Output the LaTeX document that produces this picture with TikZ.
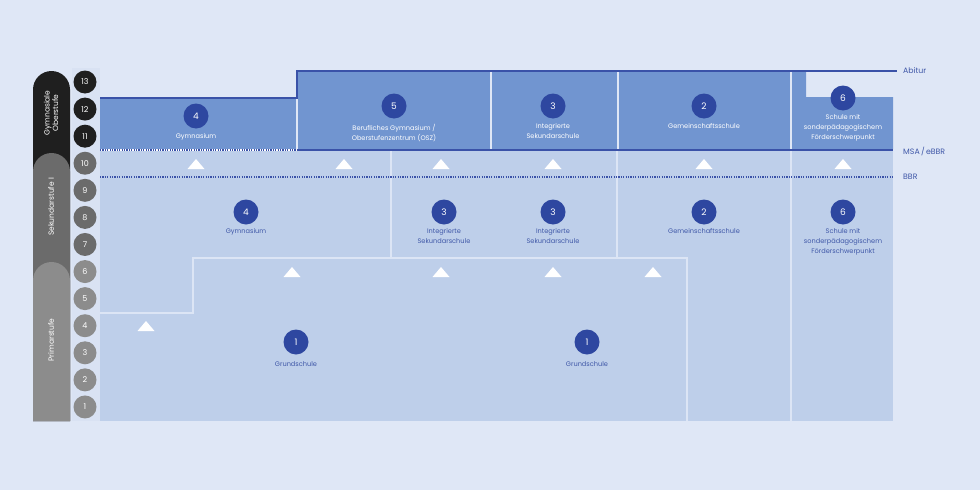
\documentclass[tikz,border=0pt]{standalone}
\usepackage{fontspec}
\setmainfont{Poppins}
\usetikzlibrary{calc}
\definecolor{pagebg}{HTML}{DFE7F6}
\definecolor{stripc}{HTML}{D9E2F3}
\definecolor{lowc}{HTML}{BECFEA}
\definecolor{upc}{HTML}{7195D0}
\definecolor{mainc}{HTML}{2E47A0}
\definecolor{linec}{HTML}{3A52A8}
\definecolor{txtc}{HTML}{4058A8}
\definecolor{sepc}{HTML}{DCE5F5}
\definecolor{blackc}{HTML}{1F1F1F}
\definecolor{darkg}{HTML}{6B6B6B}
\definecolor{lightg}{HTML}{8C8C8C}
\tikzset{
  num/.style={circle,fill=mainc,text=white,minimum size=25pt,inner sep=0pt,font=\fontsize{9}{9}\selectfont},
  grade/.style={circle,minimum size=23pt,inner sep=0pt,text=white,font=\fontsize{8}{8}\selectfont},
  lab/.style={align=center,inner sep=0pt,anchor=north,font=\fontsize{6.6}{10}\selectfont},
  uplab/.style={lab,text=white},
  lowlab/.style={lab,text=txtc},
  stage/.style={rotate=90,align=center,text=white,font=\fontsize{7.5}{8.5}\selectfont},
  endlab/.style={anchor=west,text=txtc,inner sep=0pt,font=\fontsize{7.8}{7.8}\selectfont},
  sep/.style={sepc,line width=2pt},
  bline/.style={linec,line width=2pt}
}
\newcommand{\uptri}[2]{\fill[white] (#1-8.5,#2+5)--(#1+8.5,#2+5)--(#1,#2-5)--cycle;}
\begin{document}
\begin{tikzpicture}[x=1pt,y=-1pt]
\fill[pagebg] (0,0) rectangle (980,490);
\useasboundingbox (0,0) rectangle (980,490);
\fill[stripc] (72,68) rectangle (100,421);
\fill[blackc] (33,421)--(33,89.5) arc[start angle=180,end angle=0,radius=18.5pt]--(70,421)--cycle;
\fill[darkg] (33,421)--(33,171.5) arc[start angle=180,end angle=0,radius=18.5pt]--(70,421)--cycle;
\fill[lightg] (33,421)--(33,280.5) arc[start angle=180,end angle=0,radius=18.5pt]--(70,421)--cycle;
\node[stage] (go) at (51,113) {Gymnasiale\\Oberstufe};
\node[stage] (s1) at (51,207) {Sekundarstufe I};
\node[stage] (ps) at (51,340) {Primarstufe};
\foreach \g in {1,...,13}{
  \ifnum\g>10 \def\gc{blackc}\else\ifnum\g>6 \def\gc{darkg}\else\def\gc{lightg}\fi\fi
  \node[grade,fill=\gc] (g\g) at (85,{82+(13-\g)*27.08}) {\g};}
\fill[lowc] (100,150) rectangle (893,421);
\fill[upc] (100,98) rectangle (296,149);
\fill[upc] (298,71) rectangle (489.5,149);
\fill[upc] (491.5,71) rectangle (616.5,149);
\fill[upc] (618.5,71) rectangle (790,149);
\fill[upc] (792,71)--(806,71)--(806,97)--(893,97)--(893,149)--(792,149)--cycle;
\draw[sep] (391,151)--(391,258);
\draw[sep] (617,151)--(617,258);
\draw[sep] (791,151)--(791,421);
\draw[sep] (100,313)--(193,313)--(193,258)--(687,258)--(687,421);
\draw[white,line width=2pt] (100,150)--(297,150);
\draw[linec,line width=1.6pt,dash pattern=on 1.2pt off 1.2pt] (100,150)--(297,150);
\draw[bline] (297,150)--(893,150);
\draw[linec,line width=1.6pt,dash pattern=on 1.2pt off 1.2pt] (100,177)--(893,177);
\draw[bline] (100,98)--(297,98)--(297,71)--(897,71);
\node[endlab] (abi) at (903,71) {Abitur};
\node[endlab] (msa) at (903,151) {MSA\,/\,eBBR};
\node[endlab] (bbr) at (903,177) {BBR};
\foreach \x in {196,344,441,553,704,843}{\uptri{\x}{164}}
\foreach \x in {292,441,553,653}{\uptri{\x}{272}}
\uptri{146}{326}
\node[num] (u4) at (196,116) {4};
\node[uplab] at ([yshift=-5pt]u4.south) {Gymnasium};
\node[num] (u5) at (394,106) {5};
\node[uplab] at ([yshift=-5pt]u5.south) {Berufliches Gymnasium /\\Oberstufenzentrum (OSZ)};
\node[num] (u3) at (553,106) {3};
\node[uplab] at ([yshift=-5pt]u3.south) {Integrierte\\Sekundarschule};
\node[num] (u2) at (704,106) {2};
\node[uplab] at ([yshift=-5pt]u2.south) {Gemeinschaftsschule};
\node[num] (u6) at (843,98) {6};
\node[uplab] at ([yshift=-4pt]u6.south) {Schule mit\\sonderpädagogischem\\Förderschwerpunkt};
\node[num] (l4) at (246,212) {4};
\node[lowlab] at ([yshift=-3.5pt]l4.south) {Gymnasium};
\node[num] (l3a) at (444,212) {3};
\node[lowlab] at ([yshift=-3.5pt]l3a.south) {Integrierte\\Sekundarschule};
\node[num] (l3b) at (553,212) {3};
\node[lowlab] at ([yshift=-3.5pt]l3b.south) {Integrierte\\Sekundarschule};
\node[num] (l2) at (704,212) {2};
\node[lowlab] at ([yshift=-3.5pt]l2.south) {Gemeinschaftsschule};
\node[num] (l6) at (843,212) {6};
\node[lowlab] at ([yshift=-3.5pt]l6.south) {Schule mit\\sonderpädagogischem\\Förderschwerpunkt};
\node[num] (p1a) at (296,342) {1};
\node[lowlab] at ([yshift=-7pt]p1a.south) {Grundschule};
\node[num] (p1b) at (587,342) {1};
\node[lowlab] at ([yshift=-7pt]p1b.south) {Grundschule};
\end{tikzpicture}
\end{document}
